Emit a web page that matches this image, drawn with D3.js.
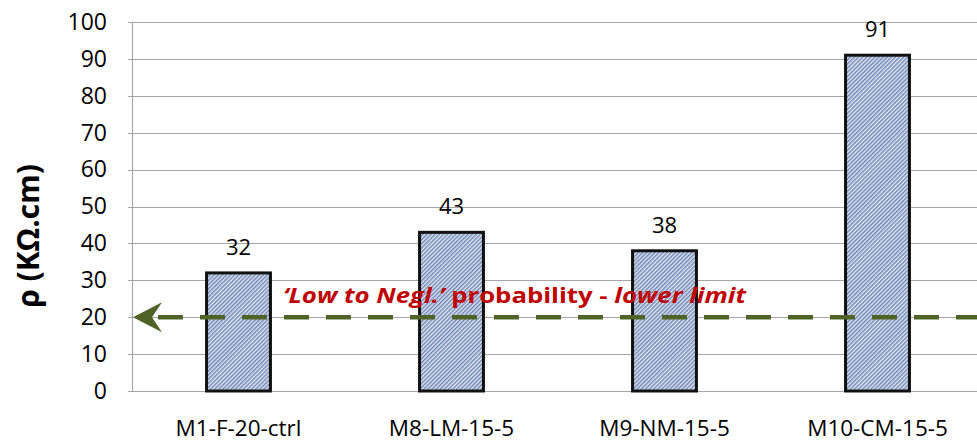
<!DOCTYPE html>
<html>
<head>
<meta charset="utf-8">
<script src="https://cdn.jsdelivr.net/npm/d3@7"></script>
<style>
  html, body { margin: 0; padding: 0; background: #fff; }
  svg { display: block; }
</style>
</head>
<body>
<svg id="chart" width="977" height="444"></svg>
<script>
// Resistivity per mix
const categories = ["M1-F-20-ctrl", "M8-LM-15-5", "M9-NM-15-5", "M10-CM-15-5"];
const resistivity = [32, 43, 38, 91];
const yTicks = [0, 10, 20, 30, 40, 50, 60, 70, 80, 90, 100];
const thresholdValue = [20];
const thresholdLabel = [
  { text: "\u2018Low to Negl.\u2019", italic: true },
  { text: " probability - ", italic: false },
  { text: "lower limit", italic: true }
];
const yTitle = "\u03c1 (K\u03a9.cm)";

const W = 977, H = 444;
const plot = { left: 132, right: 984, top: 22, bottom: 391 };
const font = "'Open Sans', 'Noto Sans', sans-serif";

const svg = d3.select("#chart");
const defs = svg.append("defs");

// diagonal hatch fill for the bars
const step = 2.9;
const pat = defs.append("pattern")
  .attr("id", "hatch")
  .attr("patternUnits", "userSpaceOnUse")
  .attr("width", step).attr("height", step)
  .attr("patternTransform", "rotate(45)");
pat.append("rect").attr("width", step).attr("height", step).attr("fill", "#e2e8f3");
pat.append("rect").attr("x", 0).attr("width", step / 2).attr("height", step).attr("fill", "#6f85b4");

const x = d3.scaleBand().domain(categories).range([plot.left, plot.right])
  .paddingInner(0.7).paddingOuter(0.35);
const y = d3.scaleLinear().domain([0, 100]).range([plot.bottom, plot.top]);

// horizontal gridlines
svg.append("g").selectAll("line").data(yTicks).join("line")
  .attr("x1", plot.left - 4).attr("x2", W)
  .attr("y1", d => Math.round(y(d)) + 0.5).attr("y2", d => Math.round(y(d)) + 0.5)
  .attr("stroke", "#a6a6a6").attr("stroke-width", 1.2);

// left axis line
svg.append("line")
  .attr("x1", plot.left + 0.5).attr("x2", plot.left + 0.5)
  .attr("y1", y(100)).attr("y2", y(0))
  .attr("stroke", "#a6a6a6").attr("stroke-width", 1.2);

// y tick labels
const yAxis = d3.axisLeft(y).tickValues(yTicks).tickSize(0).tickPadding(25);
const gy = svg.append("g").attr("transform", `translate(${plot.left},0)`).call(yAxis);
gy.select(".domain").remove();
gy.selectAll("text").attr("font-family", font).attr("font-size", 23).attr("fill", "#000");

// y title
svg.append("text")
  .attr("transform", `translate(39,${236}) rotate(-90)`)
  .attr("text-anchor", "middle")
  .attr("font-family", font).attr("font-weight", "bold").attr("font-size", 30)
  .text(yTitle);

// bars
svg.append("g").selectAll("rect").data(resistivity).join("rect")
  .attr("x", (d, i) => x(categories[i]))
  .attr("y", d => y(d))
  .attr("width", x.bandwidth())
  .attr("height", d => y(0) - y(d))
  .attr("fill", "url(#hatch)")
  .attr("stroke", "#111").attr("stroke-width", 3);

// value labels
svg.append("g").selectAll("text").data(resistivity).join("text")
  .attr("x", (d, i) => x(categories[i]) + x.bandwidth() / 2)
  .attr("y", d => y(d) - 18)
  .attr("text-anchor", "middle")
  .attr("font-family", font).attr("font-size", 22)
  .text(d => d);

// x category labels
const xAxis = d3.axisBottom(x).tickSize(0).tickPadding(29);
const gx = svg.append("g").attr("transform", `translate(0,${plot.bottom})`).call(xAxis);
gx.select(".domain").remove();
gx.selectAll("text").attr("font-family", font).attr("font-size", 22.5).attr("fill", "#000");

// threshold: dashed line with arrowhead pointing to the axis
const ty = y(thresholdValue[0]);
const tipX = plot.left + 1;
svg.append("line")
  .attr("x1", tipX + 25).attr("x2", W)
  .attr("y1", ty).attr("y2", ty)
  .attr("stroke", "#4f6228").attr("stroke-width", 4.5)
  .attr("stroke-dasharray", "25,17");
svg.append("path")
  .attr("d", `M${tipX},${ty} L${tipX + 29},${ty - 15} L${tipX + 19},${ty} L${tipX + 29},${ty + 15} Z`)
  .attr("fill", "#4f6228");

// threshold caption
const cap = svg.append("text")
  .attr("x", 283).attr("y", ty - 14)
  .attr("font-family", font).attr("font-weight", "bold").attr("font-size", 22)
  .attr("fill", "#c00000")
  .attr("textLength", 463).attr("lengthAdjust", "spacingAndGlyphs");
cap.selectAll("tspan").data(thresholdLabel).join("tspan")
  .attr("font-style", d => d.italic ? "italic" : "normal")
  .text(d => d.text);
</script>
</body>
</html>
